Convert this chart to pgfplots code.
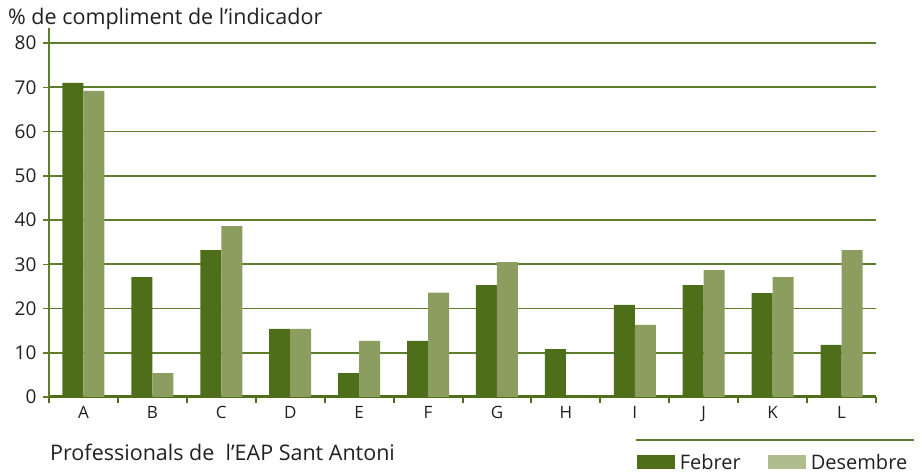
\documentclass[border=0pt]{standalone}
\usepackage{pgfplots}
\pgfplotsset{compat=1.18}
\usepackage{fontspec}
\setmainfont{Open Sans}
\definecolor{dkg}{HTML}{4E6E1A}
\definecolor{ltg}{HTML}{8C9D60}
\definecolor{ltleg}{HTML}{AEBC8E}
\definecolor{gridc}{HTML}{5E7E2C}
\definecolor{txt}{HTML}{231F20}
\begin{document}
\begin{tikzpicture}[x=1pt,y=1pt]
\useasboundingbox (0,0) rectangle (922,474);
\begin{axis}[
  at={(49pt,77pt)}, anchor=south west, scale only axis,
  width=827pt, height=369pt,
  xmin=-0.5, xmax=11.5, ymin=0, ymax=83.4,
  axis x line=bottom, axis y line=left,
  x axis line style={-, dkg, line width=3pt},
  y axis line style={-, gridc, line width=1.5pt},
  ytick={0,10,...,80},
  ymajorgrids, major grid style={gridc, line width=1.6pt},
  tick align=outside, major tick length=6pt,
  y tick style={gridc, line width=1.5pt},
  xtick={0,...,11}, xticklabels={A,B,C,D,E,F,G,H,I,J,K,L},
  major x tick style={draw=none},
  minor xtick={-0.5,0.5,...,11.5}, minor tick length=6pt,
  minor x tick style={dkg, line width=2pt},
  /pgf/number format/assume math mode=true,
  yticklabel style={font=\fontsize{19}{21}\selectfont, text=txt, xshift=-3pt},
  xticklabel style={font=\fontsize{17}{20}\selectfont, text=txt},
  ybar=0pt, bar width=21pt,
  legend style={draw=none, fill=none, at={(0.707,-0.143)}, anchor=north west,
    font=\fontsize{20}{22}\selectfont, text=txt, legend columns=2,
    /tikz/every even column/.append style={column sep=22pt},
    nodes={inner xsep=5pt}},
]
\addplot[fill=dkg, draw=none, legend image code/.code={\fill[dkg] (0pt,-7pt) rectangle (38pt,7pt);}] coordinates {(0,71.0) (1,27.1) (2,33.2) (3,15.4) (4,5.4) (5,12.7) (6,25.3) (7,10.8) (8,20.8) (9,25.3) (10,23.5) (11,11.8)};
\addlegendentry{Febrer}
\addplot[fill=ltg, draw=none, legend image code/.code={\fill[ltleg] (0pt,-7pt) rectangle (38pt,7pt);}] coordinates {(0,69.2) (1,5.4) (2,38.6) (3,15.4) (4,12.7) (5,23.6) (6,30.5) (7,0) (8,16.3) (9,28.7) (10,27.1) (11,33.2)};
\addlegendentry{Desembre}
\end{axis}
\draw[gridc, line width=1.5pt] (636,34) -- (914,34);
\node[anchor=base west, inner sep=0pt, text=txt, font=\fontsize{21.5}{23}\selectfont] at (8,449) {\% de compliment de l’indicador};
\node[anchor=base west, inner sep=0pt, text=txt, font=\fontsize{21.5}{23}\selectfont] at (50,13) {Professionals de \ l’EAP Sant Antoni};
\end{tikzpicture}
\end{document}
